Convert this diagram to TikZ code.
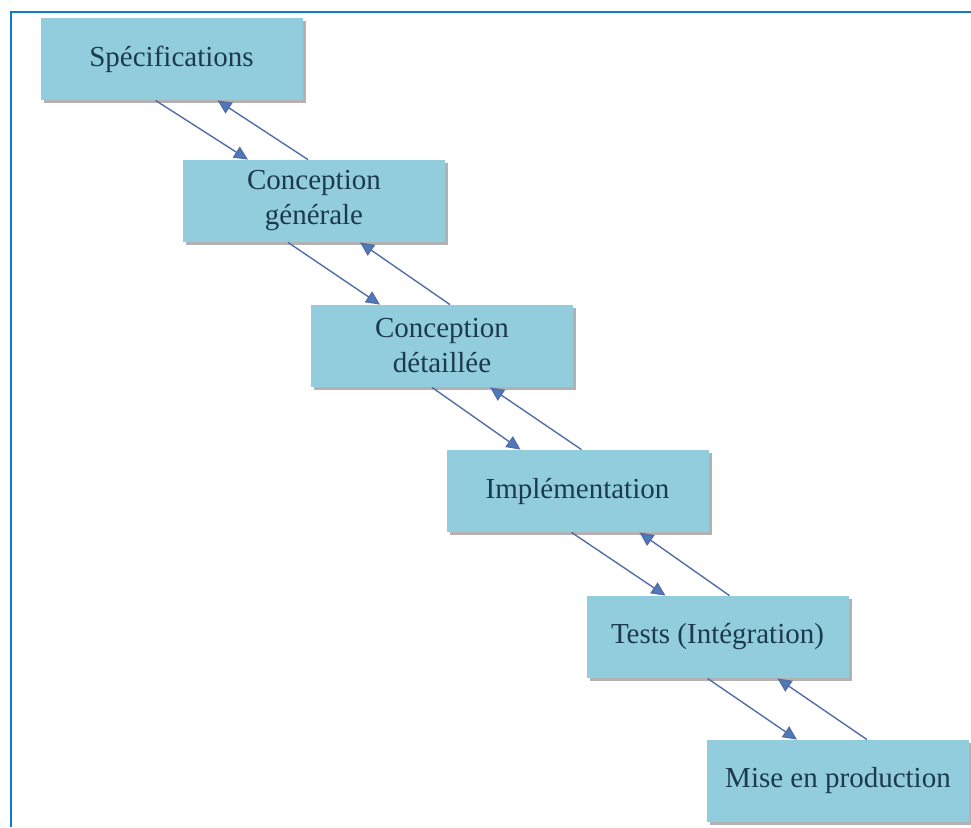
\documentclass[tikz,border=0pt]{standalone}
\usepackage{fontspec}
\setmainfont{Liberation Serif}
\usepackage{tikz}
\usetikzlibrary{arrows.meta,shadows}
\definecolor{boxfill}{RGB}{146,205,221}
\definecolor{boxtext}{RGB}{28,58,78}
\definecolor{arrowcol}{RGB}{79,121,189}
\definecolor{linecol}{RGB}{84,110,165}
\definecolor{framecol}{RGB}{16,122,208}

\begin{document}
\begin{tikzpicture}[x=0.5pt,y=-0.5pt]
\tikzstyle{phase}=[fill=boxfill,text=boxtext,minimum width=131pt,minimum height=41pt,inner sep=2pt,align=center,font=\fontsize{14.5}{17.5}\selectfont,drop shadow={shadow xshift=1.6pt,shadow yshift=-1.6pt,fill=black,opacity=0.3}]
\tikzstyle{flow}=[draw=linecol,line width=0.7pt,-{Triangle[length=7pt,width=6.5pt,fill=arrowcol]}]
\useasboundingbox (0,0) rectangle (971,827);
\draw[framecol,line width=1.1pt] (11,827) -- (11,12) -- (971,12);

\node[phase] (spec) at (171.5,59) {Spécifications};
\node[phase] (cgen) at (314,201) {Conception\\générale};
\node[phase] (cdet) at (442,346) {Conception\\détaillée};
\node[phase] (impl) at (577.5,491) {Implémentation};
\node[phase] (tests) at (717.5,637) {Tests (Intégration)};
\node[phase] (prod) at (838,781) {Mise en production};

% descente
\draw[flow] ([xshift=-8pt]spec.south) -- ([xshift=-33pt]cgen.north);
\draw[flow] ([xshift=-13pt]cgen.south) -- ([xshift=-31pt]cdet.north);
\draw[flow] ([xshift=-5pt]cdet.south) -- ([xshift=-28.5pt]impl.north);
\draw[flow] ([xshift=-3pt]impl.south) -- ([xshift=-26pt]tests.north);
\draw[flow] ([xshift=-5pt]tests.south) -- ([xshift=-20.5pt]prod.north);
% retour
\draw[flow] ([xshift=-3pt]cgen.north) -- ([xshift=23pt]spec.south);
\draw[flow] ([xshift=4pt]cdet.north) -- ([xshift=23pt]cgen.south);
\draw[flow] ([xshift=2pt]impl.north) -- ([xshift=24pt]cdet.south);
\draw[flow] ([xshift=6pt]tests.north) -- ([xshift=31pt]impl.south);
\draw[flow] ([xshift=14.5pt]prod.north) -- ([xshift=30pt]tests.south);
\end{tikzpicture}
\end{document}
